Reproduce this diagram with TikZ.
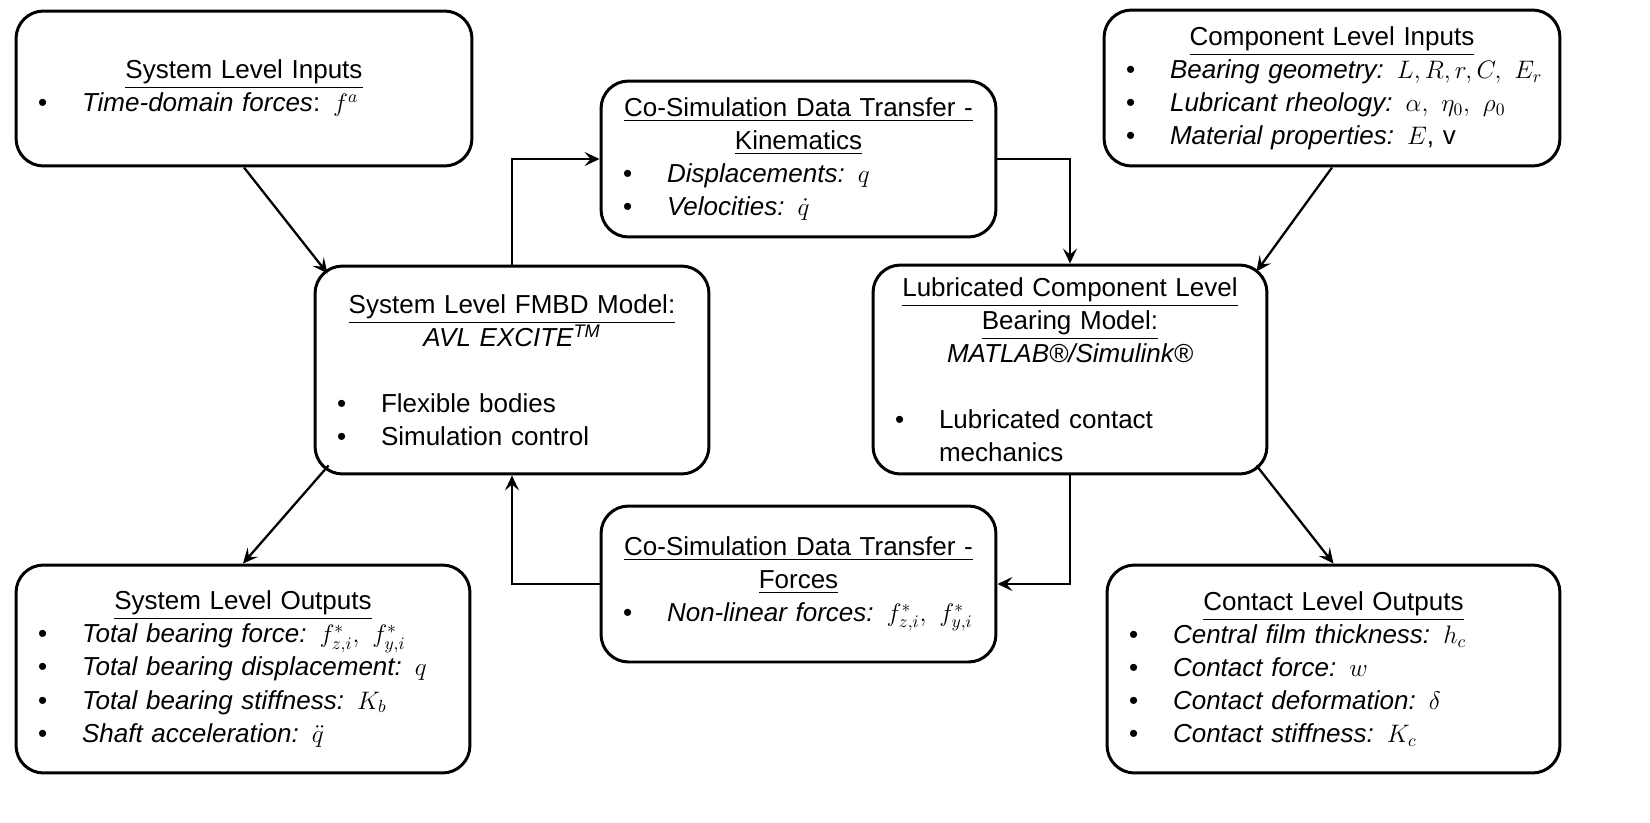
\documentclass[tikz,border=0pt]{standalone}
\usepackage{fontspec}
\setmainfont{Liberation Sans}
\usepackage{amsmath}
\usepackage{tikz}
\usetikzlibrary{positioning, arrows.meta, calc}
\newcommand{\boxtitle}[1]{\makebox[\linewidth][c]{\underline{#1}}}
\newcommand{\bul}[1]{\makebox[0.88cm][l]{\textbullet}\mbox{#1}}

\begin{document}
\begin{tikzpicture}[
      % GLOBAL CFG
      x=0.02cm, y=-0.02cm,
      font=\fontsize{14.8}{18.8}\selectfont,
      >={Stealth[length=0.3cm, width=0.28cm, inset=0.12cm]},
      % Styles
      block/.style={% For models and data transfers
        rectangle,
        rounded corners=0.55cm,
        draw,
        line width=1.7pt,
        inner xsep=0.44cm,
        inner ysep=0pt,
        align=left
      },
      arrowflow/.style={% Arrows between blocks
        line width=1.3pt,
        ->
      }
      ]
      \useasboundingbox (0,0) rectangle (1650,822);

      % Inputs
      \node [block, text width=8.24cm, minimum height=3.10cm] (sysin) at (244,88.5)
        {\boxtitle{System Level Inputs}\\
         \bul{\textit{Time-domain forces}: $f^{a}$}};
      \node [block, text width=8.24cm, minimum height=3.12cm] (compin) at (1332,88)
        {\boxtitle{Component Level Inputs}\\
         \bul{\textit{Bearing geometry:} $L, R, r, C,\ E_r$}\\
         \bul{\textit{Lubricant rheology:} $\alpha,\ \eta_0,\ \rho_0$}\\
         \bul{\textit{Material properties:} $E$, v}};

      % Co-simulation transfers
      \node [block, text width=7.02cm, minimum height=3.12cm] (kinem) at (798.5,159)
        {\boxtitle{Co-Simulation Data Transfer -}\\
         \boxtitle{Kinematics}\\
         \bul{\textit{Displacements:} $q$}\\
         \bul{\textit{Velocities:} $\dot{q}$}};
      \node [block, text width=7.02cm, minimum height=3.12cm] (forces) at (798.5,584)
        {\boxtitle{Co-Simulation Data Transfer -}\\
         \boxtitle{Forces}\\
         \bul{\textit{Non-linear forces:} $f^{*}_{z,i},\ f^{*}_{y,i}$}};

      % Models
      \node [block, text width=7.00cm, minimum height=4.16cm] (fmbd) at (512,370)
        {\boxtitle{System Level FMBD Model:}\\
         \makebox[\linewidth][c]{\textit{AVL EXCITE\textsuperscript{TM}}}\\[\baselineskip]
         \bul{Flexible bodies}\\
         \bul{Simulation control}};
      \node [block, text width=7.00cm, minimum height=4.18cm] (lubmod) at (1070,369.5)
        {\boxtitle{Lubricated Component Level}\\
         \boxtitle{Bearing Model:}\\
         \makebox[\linewidth][c]{\textit{MATLAB®/Simulink®}}\\[\baselineskip]
         \bul{Lubricated contact}\\
         \hspace*{0.88cm}mechanics};

      % Outputs
      \node [block, text width=8.20cm, minimum height=4.16cm] (sysout) at (243,669)
        {\boxtitle{System Level Outputs}\\
         \bul{\textit{Total bearing force:} $f^{*}_{z,i},\ f^{*}_{y,i}$}\\
         \bul{\textit{Total bearing displacement:} $q$}\\
         \bul{\textit{Total bearing stiffness:} $K_b$}\\
         \bul{\textit{Shaft acceleration:} $\ddot{q}$}};
      \node [block, text width=8.18cm, minimum height=4.16cm] (contout) at (1333.5,669)
        {\boxtitle{Contact Level Outputs}\\
         \bul{\textit{Central film thickness:} $h_c$}\\
         \bul{\textit{Contact force:} $w$}\\
         \bul{\textit{Contact deformation:} $\delta$}\\
         \bul{\textit{Contact stiffness:} $K_c$}};

      % Connections
      \draw [arrowflow] (sysin.south) -- ($(fmbd.north west)+(14,9)$);
      \draw [arrowflow] (compin.south) -- ($(lubmod.north east)+(-12,8)$);
      \draw [arrowflow] (fmbd.north) |- (kinem.west);
      \draw [arrowflow] (kinem.east) -| (lubmod.north);
      \draw [arrowflow] (lubmod.south) |- (forces.east);
      \draw [arrowflow] (forces.west) -| (fmbd.south);
      \draw [arrowflow] ($(fmbd.south west)+(15,-10)$) -- (sysout.north);
      \draw [arrowflow] ($(lubmod.south east)+(-12,-10)$) -- (contout.north);

    \end{tikzpicture}
\end{document}
